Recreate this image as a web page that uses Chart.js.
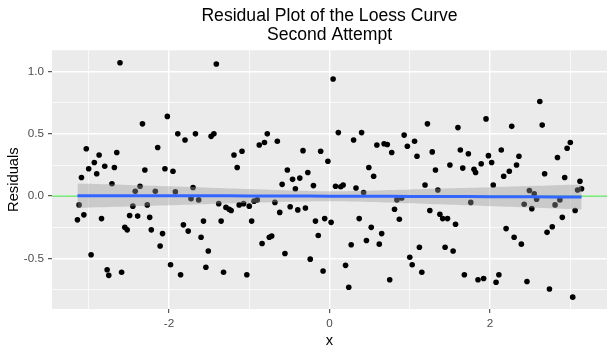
<!DOCTYPE html>
<html>
<head>
<meta charset="utf-8">
<script src="https://cdn.jsdelivr.net/npm/chart.js@4.4.0/dist/chart.umd.min.js"></script>
<style>
  html, body { margin: 0; padding: 0; background: #ffffff; }
  #wrap { width: 614px; height: 353px; }
</style>
</head>
<body>
<div id="wrap"><canvas id="residualPlot" width="614" height="353"></canvas></div>
<script>
// residuals (x, residual)
const xValues = [
  -2.61, -2.33, -2.02, -1.89, -1.80, -3.03, -2.87, -2.93, -3.00, -2.90, -2.80, -2.68, -2.65, -3.09, -2.30, -2.14, -2.05, -1.95,
  -1.41, -1.67, -1.475, -1.44, -1.19, -1.09, -1.15, -0.875, -0.81, -0.775, -0.65, -0.33, -0.11, -0.525, -0.46, -0.37, -0.27,
  0.045, -0.02, 0.11, 0.30, 0.40, 0.59, 0.68, 0.72, 0.775, 0.49, 0.55, 0.93, 0.97, 1.06, 1.09, 1.22, 1.28, 1.32, 1.50, 1.60, 1.63, 1.66,
  1.73, 1.80, 1.82, 1.89, 1.95, 1.98, 2.02, 2.14, 2.17, 2.24, 2.27, 2.33, 2.36, 2.62, 2.65, 2.68, 2.84, 2.93, 2.96, 3.00, 3.12,
  -2.71, -3.12, -3.14, -3.06, -2.84, -2.97, -2.77, -2.75, -2.59, -2.55, -2.52, -2.49, -2.45, -2.42, -2.36, -2.39, -2.27, -2.24, -2.22, -2.17, -2.08, -2.11, -1.92, -1.98, -1.855, -1.82,
  -1.70, -1.725, -1.63, -1.76, -1.60, -1.57, -1.51, -1.54, -1.38, -1.35, -1.32, -1.29, -1.25, -1.225, -1.125, -1.07, -1.00, -1.03, -0.97, -0.94, -0.90, -0.84, -0.75, -0.72, -0.68, -0.62, -0.59, -0.555, -0.49, -0.425, -0.395, -0.30, -0.24, -0.20, -0.175, -0.14, -0.08, -0.06,
  0.02, 0.075, 0.14, 0.17, 0.20, 0.24, 0.27, 0.33, 0.37, 0.425, 0.46, 0.52, 0.62, 0.65, 0.75, 0.81, 0.84, 0.90, 0.87, 1.00, 1.03, 1.12, 1.15, 1.19, 1.25, 1.35, 1.375, 1.41, 1.47, 1.44, 1.54, 1.57, 1.68,
  1.76, 1.85, 1.92, 2.04, 2.075, 2.11, 2.20, 2.30, 2.39, 2.425, 2.46, 2.49, 2.52, 2.55, 2.58, 2.71, 2.74, 2.775, 2.81, 2.87, 2.90, 3.03, 3.06, 3.09, 3.14
];
const residuals = [
  1.07, 0.58, 0.64, 0.50, 0.45, 0.38, 0.33, 0.27, 0.22, 0.18, 0.24, 0.23, 0.35, 0.15, 0.21, 0.39, 0.22, 0.20,
  1.06, 0.50, 0.48, 0.50, 0.33, 0.36, 0.23, 0.41, 0.43, 0.50, 0.44, 0.365, 0.36, 0.21, 0.135, 0.145, 0.19,
  0.94, 0.28, 0.51, 0.45, 0.51, 0.41, 0.42, 0.415, 0.35, 0.23, 0.16, 0.49, 0.40, 0.44, 0.32, 0.58, 0.355, 0.21, 0.25, 0.55, 0.37, 0.225,
  0.34, 0.215, 0.19, 0.26, 0.62, 0.325, 0.27, 0.37, 0.16, 0.20, 0.56, 0.25, 0.32, 0.76, 0.57, 0.18, 0.31, 0.15, 0.385, 0.43, 0.12,
  0.10, -0.07, -0.19, -0.15, -0.18, -0.47, -0.59, -0.635, -0.61, -0.25, -0.27, -0.155, -0.08, 0.04, 0.08, -0.16, -0.07, -0.17, -0.27, 0.04, -0.30, -0.40, 0.035, -0.55, -0.63, -0.23,
  0.07, -0.02, -0.03, -0.28, -0.33, -0.20, -0.44, -0.57, -0.06, -0.20, -0.61, -0.09, -0.105, -0.115, -0.07, -0.06, -0.08, -0.63, -0.20, -0.04, -0.03, -0.38, -0.33, -0.32, -0.05, -0.13, 0.095, -0.46, -0.085, 0.06, -0.11, -0.095, -0.505, 0.085, -0.20, -0.315, -0.60, -0.18,
  -0.21, 0.08, 0.075, 0.09, -0.555, -0.73, -0.39, 0.065, -0.18, 0.03, -0.355, -0.25, -0.385, -0.30, -0.67, -0.105, -0.03, -0.015, -0.185, -0.49, -0.55, -0.41, -0.61, 0.09, -0.115, 0.05, -0.145, -0.18, -0.18, -0.41, -0.44, -0.225, -0.63,
  -0.05, -0.67, -0.66, 0.09, -0.69, -0.63, -0.26, -0.33, -0.385, -0.065, -0.685, 0.045, -0.10, 0.02, -0.025, -0.29, -0.745, -0.245, -0.07, -0.03, -0.17, -0.81, -0.115, 0.05, 0.06
];

// smoother and its confidence band
const smoothX = [-3.14, -2.5, -2, -1.5, -1, -0.5, 0, 0.5, 1, 1.5, 2, 2.5, 3.14];
const smoothFit = [0.004, 0.004, 0.003, 0.003, 0.002, 0.001, 0.0, -0.001, -0.002, -0.003, -0.004, -0.005, -0.007];
const smoothHalfBand = [0.097, 0.086, 0.076, 0.065, 0.055, 0.045, 0.04, 0.045, 0.055, 0.066, 0.076, 0.086, 0.1];

const xLimits = [-3.457, 3.457];
const yLimits = [-0.905, 1.17];
const xLabelTicks = [-2, 0, 2];
const yLabelTicks = [-0.5, 0, 0.5, 1];

const FONT = "'Liberation Sans', Arial, Helvetica, sans-serif";

function isLabelTick(v, list) {
  return list.some(t => Math.abs(t - v) < 1e-6);
}

const panelBackground = {
  id: 'panelBackground',
  beforeDraw(chart) {
    const { ctx, chartArea: a } = chart;
    ctx.save();
    ctx.fillStyle = '#EBEBEB';
    ctx.fillRect(a.left, a.top, a.right - a.left, a.bottom - a.top);
    ctx.restore();
  }
};

const points = xValues.map((x, i) => ({ x: x, y: residuals[i] }));
const fitLine = smoothX.map((x, i) => ({ x: x, y: smoothFit[i] }));
const bandUpper = smoothX.map((x, i) => ({ x: x, y: smoothFit[i] + smoothHalfBand[i] }));
const bandLower = smoothX.map((x, i) => ({ x: x, y: smoothFit[i] - smoothHalfBand[i] }));

new Chart(document.getElementById('residualPlot'), {
  type: 'scatter',
  data: {
    datasets: [
      {
        type: 'line',
        data: fitLine,
        borderColor: '#3366FF',
        borderWidth: 3,
        pointRadius: 0,
        tension: 0.3,
        fill: false
      },
      {
        type: 'line',
        data: bandUpper,
        borderWidth: 0,
        pointRadius: 0,
        tension: 0.3,
        fill: '+1',
        backgroundColor: 'rgba(153,153,153,0.4)'
      },
      {
        type: 'line',
        data: bandLower,
        borderWidth: 0,
        pointRadius: 0,
        tension: 0.3,
        fill: false
      },
      {
        data: points,
        backgroundColor: '#000000',
        borderWidth: 0,
        pointRadius: 2.8
      },
      {
        type: 'line',
        data: [{ x: xLimits[0], y: 0 }, { x: xLimits[1], y: 0 }],
        borderColor: '#55E055',
        borderWidth: 1.2,
        pointRadius: 0,
        fill: false
      }
    ]
  },
  options: {
    responsive: false,
    animation: false,
    devicePixelRatio: 1,
    events: [],
    layout: { padding: { left: 0, right: 7, top: 0, bottom: 0 } },
    plugins: {
      legend: { display: false },
      tooltip: { enabled: false },
      title: {
        display: true,
        fullSize: false,
        text: ['Residual Plot of the Loess Curve', 'Second Attempt'],
        color: '#000000',
        font: { family: FONT, size: 17.6, weight: 'normal', lineHeight: 1.06 },
        padding: { top: 7, bottom: 6 }
      }
    },
    scales: {
      x: {
        type: 'linear',
        min: xLimits[0],
        max: xLimits[1],
        afterFit: s => { s.height = 44; },
        border: { display: false },
        grid: {
          color: '#FFFFFF',
          lineWidth: c => isLabelTick(c.tick.value, xLabelTicks) ? 1.4 : 0.7,
          tickColor: c => isLabelTick(c.tick.value, xLabelTicks) ? '#333333' : 'rgba(0,0,0,0)',
          tickLength: 4,
          tickWidth: 1
        },
        ticks: {
          stepSize: 1,
          includeBounds: false,
          autoSkip: false,
          maxRotation: 0,
          padding: 4,
          color: '#4D4D4D',
          font: { family: FONT, size: 11.7 },
          callback: v => isLabelTick(v, xLabelTicks) ? String(Math.round(v)) : ''
        },
        title: {
          display: true,
          text: 'x',
          color: '#000000',
          font: { family: FONT, size: 14.7 },
          padding: { top: 0, bottom: 3 }
        }
      },
      y: {
        type: 'linear',
        min: yLimits[0],
        max: yLimits[1],
        afterFit: s => { s.width = 52; },
        border: { display: false },
        grid: {
          color: '#FFFFFF',
          lineWidth: c => isLabelTick(c.tick.value, yLabelTicks) ? 1.4 : 0.7,
          tickColor: c => isLabelTick(c.tick.value, yLabelTicks) ? '#333333' : 'rgba(0,0,0,0)',
          tickLength: 4,
          tickWidth: 1
        },
        ticks: {
          stepSize: 0.25,
          includeBounds: false,
          autoSkip: false,
          padding: 4,
          color: '#4D4D4D',
          font: { family: FONT, size: 11.7 },
          callback: v => isLabelTick(v, yLabelTicks) ? v.toFixed(1) : ''
        },
        title: {
          display: true,
          text: 'Residuals',
          color: '#000000',
          font: { family: FONT, size: 14.7 },
          padding: { top: 5, bottom: 0 }
        }
      }
    }
  },
  plugins: [panelBackground]
});
</script>
</body>
</html>
